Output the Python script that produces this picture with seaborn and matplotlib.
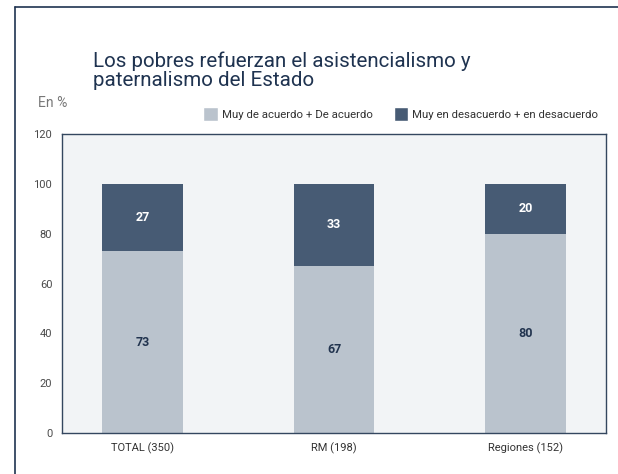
import pandas as pd
import numpy as np
import matplotlib.pyplot as plt
import seaborn as sns
from matplotlib.patches import Patch
from matplotlib.lines import Line2D

categories = ["TOTAL (350)", "RM (198)", "Regiones (152)"]
acuerdo = [73, 67, 80]
desacuerdo = [27, 33, 20]
series_names = ["Muy de acuerdo + De acuerdo", "Muy en desacuerdo + en desacuerdo"]

light = "#bac3cd"
dark = "#475b74"
navy = "#1f3350"

df = pd.DataFrame({"cat": categories, "acuerdo": acuerdo, "desacuerdo": desacuerdo})
df["total"] = df["acuerdo"] + df["desacuerdo"]

sns.set_style("white")
plt.rcParams["font.family"] = ["Roboto", "DejaVu Sans"]

fig = plt.figure(figsize=(6.18, 4.74), dpi=100)
ax = fig.add_axes([62 / 618, 41 / 474, 544 / 618, 299 / 474])
ax.set_facecolor("#f2f4f6")

sns.barplot(x="cat", y="total", data=df, color=dark, width=0.42, ax=ax, saturation=1, linewidth=0)
sns.barplot(x="cat", y="acuerdo", data=df, color=light, width=0.42, ax=ax, saturation=1, linewidth=0)

for i, row in df.iterrows():
    ax.text(i, row["acuerdo"] / 2, str(row["acuerdo"]), ha="center", va="center",
            fontsize=9, fontweight="bold", color="#22344f")
    ax.text(i, row["acuerdo"] + row["desacuerdo"] / 2, str(row["desacuerdo"]), ha="center",
            va="center", fontsize=9, fontweight="bold", color="white")

ax.set_ylim(0, 120)
ax.set_yticks(range(0, 121, 20))
ax.set_xlim(-0.42, 2.42)
ax.set_xticks([0.5, 1.5])
ax.set_xticklabels([])
ax.tick_params(axis="x", length=4, color=navy, direction="out")
ax.tick_params(axis="y", length=4, color=navy, direction="out", labelsize=8, labelcolor="#4a4a4a", pad=3)
for i, c in enumerate(categories):
    ax.text(i, -3.8, c, ha="center", va="top", fontsize=8, color="#333333")
ax.set_xlabel("")
ax.set_ylabel("")
for s in ax.spines.values():
    s.set_color("#34475f")
    s.set_linewidth(1)

fig.text(93 / 618, 1 - 51 / 474, "Los pobres refuerzan el asistencialismo y\npaternalismo del Estado",
         fontsize=14.8, color=navy, va="top", ha="left", linespacing=1.0)
fig.text(38 / 618, 1 - 103 / 474, "En %", fontsize=10, color="#777777", va="center")

handles = [Patch(facecolor=light), Patch(facecolor=dark)]
fig.legend(handles, series_names, ncol=2, loc="center right", bbox_to_anchor=(604 / 618, 1 - 114 / 474),
           frameon=False, fontsize=8.2, handlelength=1.25, handleheight=1.4, handletextpad=0.4,
           columnspacing=1.8, labelcolor="#333333", borderpad=0)

fig.add_artist(Line2D([14.5 / 618, 14.5 / 618], [0, 1 - 7 / 474], color=navy, lw=1.2))
fig.add_artist(Line2D([14.5 / 618, 1], [1 - 7 / 474, 1 - 7 / 474], color=navy, lw=1.2))

plt.savefig("out.png", dpi=100)
